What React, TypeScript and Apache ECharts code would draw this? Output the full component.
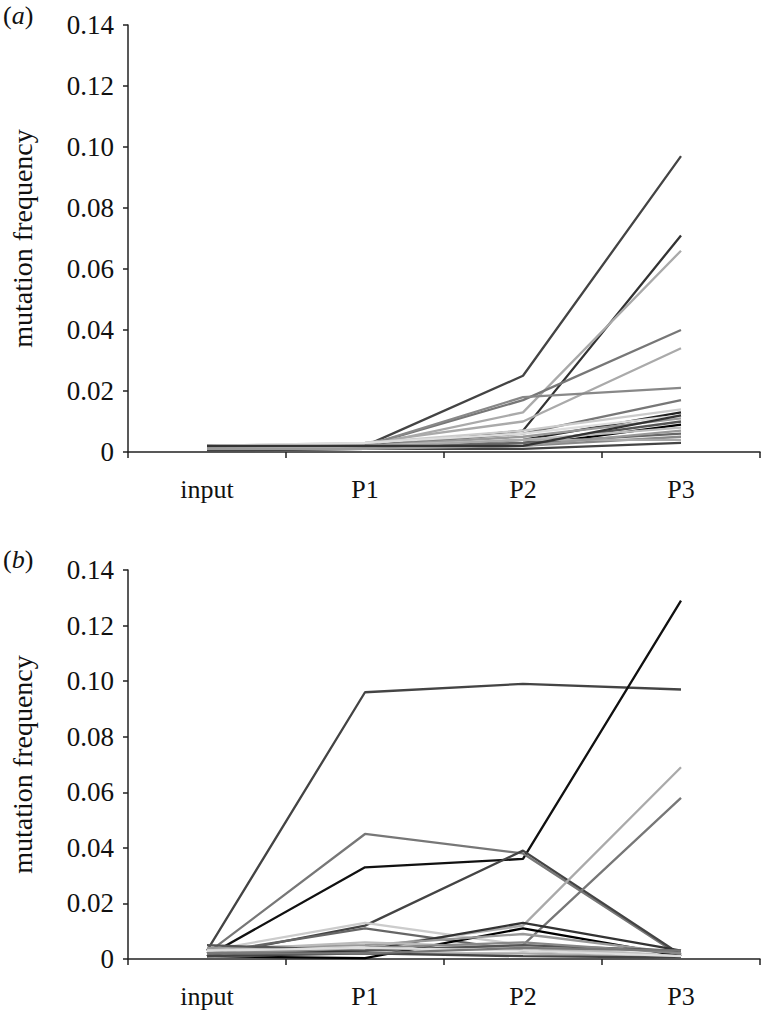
import React, { useEffect, useRef } from "react";
import * as echarts from "echarts";

const categories = ["input", "P1", "P2", "P3"];

// Panel (a) series: values at input, P1, P2, P3
const aValues: number[][] = [
  [0.002, 0.002, 0.025, 0.097],
  [0.001, 0.002, 0.007, 0.071],
  [0.001, 0.002, 0.013, 0.066],
  [0.001, 0.002, 0.017, 0.040],
  [0.001, 0.003, 0.010, 0.034],
  [0.001, 0.002, 0.018, 0.021],
  [0.001, 0.002, 0.006, 0.017],
  [0.002, 0.001, 0.004, 0.013],
  [0.001, 0.001, 0.002, 0.009],
  [0.002, 0.003, 0.007, 0.014],
  [0.001, 0.002, 0.005, 0.011],
  [0.0005, 0.001, 0.003, 0.010],
  [0.002, 0.002, 0.004, 0.008],
  [0.001, 0.001, 0.003, 0.006],
  [0.0015, 0.002, 0.002, 0.005],
  [0.001, 0.0015, 0.004, 0.004],
  [0.0005, 0.001, 0.001, 0.003],
  [0.002, 0.003, 0.006, 0.012],
  [0.001, 0.001, 0.002, 0.007],
  [0.002, 0.002, 0.002, 0.012],
];
const aColors = [
  "#444", "#333", "#aaa", "#777", "#aaa", "#888", "#777", "#222", "#000", "#ccc",
  "#999", "#555", "#bbb", "#666", "#888", "#aaa", "#444", "#ddd", "#999", "#333",
];

// Panel (b) series
const bValues: number[][] = [
  [0.003, 0.096, 0.099, 0.097],
  [0.001, 0.033, 0.036, 0.129],
  [0.002, 0.045, 0.038, 0.001],
  [0.001, 0.012, 0.039, 0.0015],
  [0.003, 0.004, 0.012, 0.069],
  [0.002, 0.003, 0.005, 0.058],
  [0.003, 0.013, 0.005, 0.001],
  [0.002, 0.011, 0.003, 0.001],
  [0.001, 0.003, 0.013, 0.003],
  [0.001, 0.0003, 0.011, 0.001],
  [0.004, 0.005, 0.009, 0.002],
  [0.003, 0.006, 0.004, 0.001],
  [0.005, 0.003, 0.005, 0.003],
  [0.002, 0.004, 0.006, 0.002],
  [0.001, 0.002, 0.002, 0.0005],
  [0.001, 0.002, 0.001, 0.0005],
  [0.003, 0.004, 0.003, 0.001],
  [0.002, 0.002, 0.004, 0.003],
];
const bColors = [
  "#444", "#111", "#777", "#444", "#aaa", "#777", "#ccc", "#666", "#333", "#000",
  "#999", "#bbb", "#555", "#888", "#aaa", "#444", "#ddd", "#777",
];

const FONT = "Times New Roman";

export default function App() {
  const ref = useRef<HTMLDivElement>(null);
  useEffect(() => {
    if (!ref.current) return;
    const chart = echarts.init(ref.current, undefined, { renderer: "svg" });
    const mkX = (gridIndex: number) => ({
      type: "category" as const,
      gridIndex,
      data: categories,
      boundaryGap: true,
      axisLine: { lineStyle: { color: "#222", width: 1.5 } },
      axisTick: { show: true, length: 6, lineStyle: { color: "#222", width: 1.5 } },
      axisLabel: { color: "#111", fontSize: 26, fontFamily: FONT, margin: 24 },
      splitLine: { show: false },
    });
    const mkY = (gridIndex: number) => ({
      type: "value" as const,
      gridIndex,
      min: 0,
      max: 0.14,
      interval: 0.02,
      name: "mutation frequency",
      nameLocation: "middle" as const,
      nameRotate: 90,
      nameGap: 92,
      nameTextStyle: { color: "#111", fontSize: 28, fontFamily: FONT },
      axisLine: { show: true, lineStyle: { color: "#222", width: 1.5 } },
      axisTick: { show: true, length: 5, lineStyle: { color: "#222", width: 1.5 } },
      axisLabel: {
        color: "#111",
        fontSize: 27,
        fontFamily: FONT,
        margin: 14,
        formatter: (v: number) => (v === 0 ? "0" : v.toFixed(2)),
      },
      splitLine: { show: false },
    });
    const series: any[] = [];
    aValues.forEach((vals, i) =>
      series.push({
        type: "line",
        xAxisIndex: 0,
        yAxisIndex: 0,
        data: vals,
        symbol: "none",
        lineStyle: { color: aColors[i % aColors.length], width: 2.3 },
      })
    );
    bValues.forEach((vals, i) =>
      series.push({
        type: "line",
        xAxisIndex: 1,
        yAxisIndex: 1,
        data: vals,
        symbol: "none",
        lineStyle: { color: bColors[i % bColors.length], width: 2.3 },
      })
    );
    const label = (ch: string, top: number) => ({
      type: "text",
      left: 3,
      top,
      style: {
        text: `({a|${ch}})`,
        fill: "#111",
        fontSize: 26,
        fontFamily: FONT,
        rich: { a: { fontStyle: "italic", fontSize: 26, fontFamily: FONT, fill: "#111" } },
      } as any,
    });
    chart.setOption({
      animation: false,
      backgroundColor: "#fff",
      textStyle: { fontFamily: FONT },
      grid: [
        { left: 127, top: 25, width: 633, height: 427 },
        { left: 127, top: 570, width: 633, height: 389 },
      ],
      xAxis: [mkX(0), mkX(1)],
      yAxis: [mkY(0), mkY(1)],
      graphic: [label("a", 2), label("b", 546)],
      series,
    });
    return () => chart.dispose();
  }, []);
  return (
    <div
      ref={ref}
      style={{ position: "fixed", left: 0, top: 0, width: 762, height: 1015, background: "#fff" }}
    />
  );
}
